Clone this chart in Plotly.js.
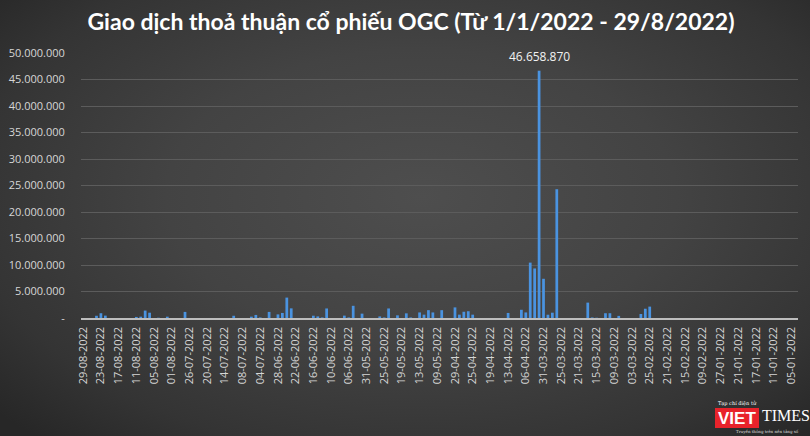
<!DOCTYPE html>
<html>
<head>
<meta charset="utf-8">
<script src="https://cdn.plot.ly/plotly-3.0.1.min.js"></script>
<style>
  html, body { margin: 0; padding: 0; }
  #wrap {
    width: 810px; height: 436px; overflow: hidden;
    background: radial-gradient(ellipse 70% 75% at 52% 45%, #4e4e4e 0%, #434343 45%, #343434 80%, #272727 100%);
  }
  #chart { width: 810px; height: 436px; }
</style>
</head>
<body>
<div id="wrap"><div id="chart"></div></div>
<script>
// Trading days, newest first (as on the reference axis)
const datesAug = ["29-08-2022","26-08-2022","25-08-2022","24-08-2022","23-08-2022","22-08-2022","19-08-2022","18-08-2022","17-08-2022","16-08-2022","15-08-2022","12-08-2022","11-08-2022","10-08-2022","09-08-2022","08-08-2022","05-08-2022","04-08-2022","03-08-2022","02-08-2022","01-08-2022"];
const datesJul = ["29-07-2022","28-07-2022","27-07-2022","26-07-2022","25-07-2022","22-07-2022","21-07-2022","20-07-2022","19-07-2022","18-07-2022","15-07-2022","14-07-2022","13-07-2022","12-07-2022","11-07-2022","08-07-2022","07-07-2022","06-07-2022","05-07-2022","04-07-2022","01-07-2022"];
const datesJun = ["30-06-2022","29-06-2022","28-06-2022","27-06-2022","24-06-2022","23-06-2022","22-06-2022","21-06-2022","20-06-2022","17-06-2022","16-06-2022","15-06-2022","14-06-2022","13-06-2022","10-06-2022","09-06-2022","08-06-2022","07-06-2022","06-06-2022","03-06-2022","02-06-2022","01-06-2022"];
const datesMay = ["31-05-2022","30-05-2022","27-05-2022","26-05-2022","25-05-2022","24-05-2022","23-05-2022","20-05-2022","19-05-2022","18-05-2022","17-05-2022","16-05-2022","13-05-2022","12-05-2022","11-05-2022","10-05-2022","09-05-2022","06-05-2022","05-05-2022","04-05-2022"];
const datesApr = ["29-04-2022","28-04-2022","27-04-2022","26-04-2022","25-04-2022","22-04-2022","21-04-2022","20-04-2022","19-04-2022","18-04-2022","15-04-2022","14-04-2022","13-04-2022","12-04-2022","08-04-2022","07-04-2022","06-04-2022","05-04-2022","04-04-2022","01-04-2022"];
const datesMar = ["31-03-2022","30-03-2022","29-03-2022","28-03-2022","25-03-2022","24-03-2022","23-03-2022","22-03-2022","21-03-2022","18-03-2022","17-03-2022","16-03-2022","15-03-2022","14-03-2022","11-03-2022","10-03-2022","09-03-2022","08-03-2022","07-03-2022","04-03-2022","03-03-2022","02-03-2022","01-03-2022"];
const datesFeb = ["28-02-2022","25-02-2022","24-02-2022","23-02-2022","22-02-2022","21-02-2022","18-02-2022","17-02-2022","16-02-2022","15-02-2022","14-02-2022","11-02-2022","10-02-2022","09-02-2022","08-02-2022","07-02-2022"];
const datesJan = ["28-01-2022","27-01-2022","26-01-2022","25-01-2022","24-01-2022","21-01-2022","20-01-2022","19-01-2022","18-01-2022","17-01-2022","14-01-2022","13-01-2022","12-01-2022","11-01-2022","10-01-2022","07-01-2022","06-01-2022","05-01-2022","04-01-2022"];

// Put-through volume (shares), same order as the dates above
const volAug = [0,0,0,420000,900000,450000,0,0,0,0,0,0,200000,250000,1400000,1000000,0,50000,0,250000,0];
const volJul = [0,0,1150000,0,0,0,0,0,0,0,0,0,0,420000,0,0,0,250000,580000,100000,0];
const volJun = [1150000,0,680000,950000,3850000,1820000,0,0,0,0,430000,300000,100000,1800000,0,0,0,450000,100000,2300000,0,820000];
const volMay = [0,0,0,300000,100000,1800000,0,500000,0,880000,100000,0,1050000,630000,1480000,1050000,0,1480000,0,0];
const volApr = [2000000,630000,1180000,1280000,630000,0,0,0,0,0,0,0,950000,0,0,1550000,1050000,10450000,9350000,46658870];
const volMar = [7400000,620000,1000000,24300000,0,0,0,0,0,0,2900000,100000,50000,0,900000,900000,0,400000,0,0,0,0,750000];
const volFeb = [1750000,2150000,0,0,0,0,0,0,0,0,0,0,0,0,0,0];
const volJan = [0,0,0,0,0,0,0,0,0,0,0,0,0,0,0,0,0,0,0];

// Axis tick labels
const xTickLabels = ["29-08-2022","23-08-2022","17-08-2022","11-08-2022","05-08-2022","01-08-2022","26-07-2022","20-07-2022","14-07-2022","08-07-2022","04-07-2022","28-06-2022","22-06-2022","16-06-2022","10-06-2022","06-06-2022","31-05-2022","25-05-2022","19-05-2022","13-05-2022","09-05-2022","29-04-2022","25-04-2022","19-04-2022","13-04-2022","06-04-2022","31-03-2022","25-03-2022","21-03-2022","15-03-2022","09-03-2022","03-03-2022","25-02-2022","21-02-2022","15-02-2022","09-02-2022","27-01-2022","21-01-2022","17-01-2022","11-01-2022","05-01-2022"];
const yTickVals = [0,5000000,10000000,15000000,20000000,25000000,30000000,35000000,40000000,45000000,50000000];
const yTickText = ["-","5.000.000","10.000.000","15.000.000","20.000.000","25.000.000","30.000.000","35.000.000","40.000.000","45.000.000","50.000.000"];

const titleText = "Giao dịch thoả thuận cổ phiếu OGC (Từ 1/1/2022 - 29/8/2022)";

const dates = [].concat(datesAug, datesJul, datesJun, datesMay, datesApr, datesMar, datesFeb, datesJan);
const vols = [].concat(volAug, volJul, volJun, volMay, volApr, volMar, volFeb, volJan);

function fmtVN(n) { return String(Math.round(n)).replace(/\B(?=(\d{3})+(?!\d))/g, "."); }
let peakIdx = 0;
vols.forEach((v, i) => { if (v > vols[peakIdx]) peakIdx = i; });

const W = 810, H = 436;
const M = { l: 81, r: 12, t: 53, b: 118 };
const px = x => (x - M.l) / (W - M.l - M.r);
const py = y => 1 - (y - M.t) / (H - M.t - M.b);

const trace = {
  type: "bar",
  x: dates,
  y: vols,
  marker: { color: "#4a93e0", line: { width: 0 } },
  hoverinfo: "x+y"
};

const layout = {
  width: W, height: H,
  margin: M,
  paper_bgcolor: "rgba(0,0,0,0)",
  plot_bgcolor: "rgba(0,0,0,0)",
  bargap: 0.38,
  showlegend: false,
  title: {
    text: titleText,
    font: { family: "Lato, 'Open Sans', sans-serif", size: 23, color: "#ffffff", weight: "bold" },
    x: 411 / W, xanchor: "center", xref: "container",
    y: 1 - 22 / H, yanchor: "middle", yref: "container"
  },
  xaxis: {
    type: "category",
    categoryorder: "array",
    categoryarray: dates,
    range: [-0.5, dates.length - 0.5],
    tickmode: "array",
    tickvals: xTickLabels,
    ticktext: xTickLabels,
    tickangle: -90,
    tickfont: { family: "'Open Sans', sans-serif", size: 11, color: "#d6d6d6" },
    ticks: "outside", ticklen: 3, tickcolor: "rgba(0,0,0,0)",
    showgrid: false,
    showline: true, linecolor: "#bdbdbd", linewidth: 1.5,
    zeroline: false,
    fixedrange: true
  },
  yaxis: {
    range: [0, 50000000],
    tickmode: "array",
    tickvals: yTickVals,
    ticktext: yTickText,
    tickfont: { family: "'Open Sans', sans-serif", size: 11, color: "#d6d6d6" },
    ticks: "outside", ticklen: 13, tickcolor: "rgba(0,0,0,0)",
    showgrid: true, gridcolor: "#5c5c5c", gridwidth: 1,
    zeroline: false, showline: false,
    fixedrange: true
  },
  annotations: [
    {
      x: dates[peakIdx], y: vols[peakIdx], xref: "x", yref: "y",
      text: fmtVN(vols[peakIdx]), showarrow: false,
      yanchor: "bottom", yshift: 4,
      font: { family: "'Open Sans', sans-serif", size: 12, color: "#f2f2f2" }
    },
    {
      x: px(737), y: py(403), xref: "paper", yref: "paper",
      text: "Tạp chí điện tử", showarrow: false, xanchor: "center", yanchor: "middle",
      font: { family: "'DejaVu Serif', serif", size: 5, color: "#ffffff" }
    },
    {
      x: px(737), y: py(418), xref: "paper", yref: "paper",
      text: "<b>VIET</b>", showarrow: false, xanchor: "center", yanchor: "middle",
      font: { family: "'Liberation Sans', Arial, sans-serif", size: 17, color: "#ffffff" }
    },
    {
      x: px(760), y: py(415), xref: "paper", yref: "paper",
      text: "TIMES", showarrow: false, xanchor: "left", yanchor: "middle",
      font: { family: "'Liberation Serif', 'DejaVu Serif', serif", size: 16, color: "#ffffff" }
    },
    {
      x: px(801), y: py(431), xref: "paper", yref: "paper",
      text: "Truyền thông trên nền tảng số", showarrow: false, xanchor: "right", yanchor: "middle",
      font: { family: "'DejaVu Serif', serif", size: 4, color: "#dddddd" }
    }
  ],
  shapes: [
    {
      type: "rect", xref: "paper", yref: "paper",
      x0: px(715), x1: px(759), y0: py(428), y1: py(408),
      fillcolor: "#e8232b", line: { width: 0 }, layer: "below"
    }
  ]
};

Plotly.newPlot("chart", [trace], layout, { displayModeBar: false, staticPlot: true });
</script>
</body>
</html>
